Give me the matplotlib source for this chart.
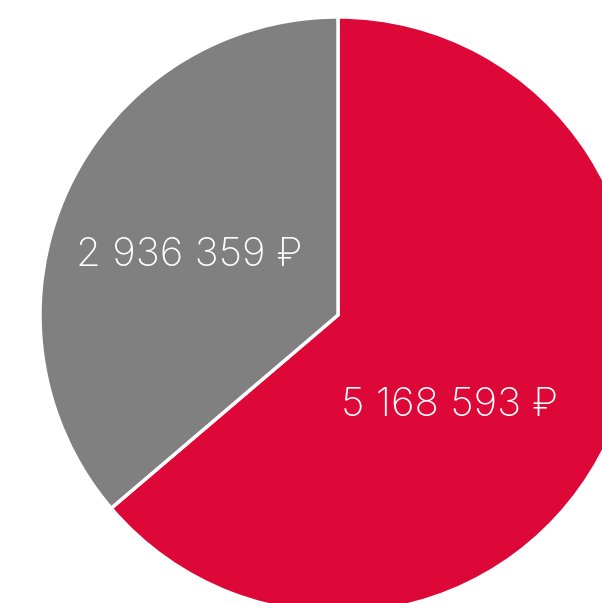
import matplotlib.pyplot as plt

# --- data ---
labels = ['5 168 593 ₽', '2 936 359 ₽']
values = [5168593, 2936359]
colors = ['#DE0838', '#808080']

plt.rcParams['font.family'] = ['Inter', 'DejaVu Sans']

fig = plt.figure(figsize=(6.02, 6.03), dpi=100)
ax = fig.add_axes([0, 0, 1, 1])

wedges, _ = ax.pie(values, colors=colors, startangle=90, counterclock=False,
                   center=(338, 288), radius=298,
                   wedgeprops=dict(edgecolor='white', linewidth=2.5))

# pie resets limits, so set pixel coords afterwards
ax.set_xlim(0, 602)
ax.set_ylim(0, 603)
ax.set_aspect('equal')
ax.axis('off')

ax.text(450, 197, labels[0], color='white', fontsize=29, fontweight='light',
        ha='center', va='center')
ax.text(189, 347, labels[1], color='white', fontsize=29, fontweight='light',
        ha='center', va='center')

fig.savefig('out.png', dpi=100)
